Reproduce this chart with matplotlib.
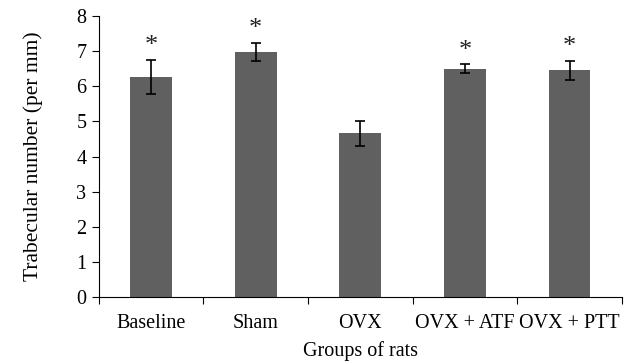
import matplotlib
matplotlib.use("Agg")
from matplotlib import pyplot as plt
import numpy as np

groups = ["Baseline", "Sham", "OVX", "OVX + ATF", "OVX + PTT"]
means = [6.26, 6.97, 4.66, 6.50, 6.45]
errors = [0.48, 0.26, 0.36, 0.12, 0.27]
significant = [True, True, False, True, True]

plt.rcParams['font.family'] = ['Liberation Serif', 'DejaVu Serif']
plt.rcParams['font.size'] = 14.5

fig = plt.figure(figsize=(6.3, 3.64), dpi=100)
ax = fig.add_axes([0.157, 0.184, 0.83, 0.772])
x = np.arange(len(groups))
ax.bar(x, means, 0.4, color="#606060", zorder=2)
ax.errorbar(x, means, yerr=errors, fmt="none", ecolor="black", elinewidth=1.2,
            capsize=3.6, capthick=1.2, zorder=3)
for xi, m, e, s in zip(x, means, errors, significant):
    if s:
        ax.text(xi, m + e + 0.08, "*", ha="center", va="bottom", fontsize=19,
                color="#222222")

ax.set_xlim(-0.5, len(groups) - 0.5)
ax.set_ylim(0, 8)
ax.set_yticks(range(0, 9))
ax.set_xticks(np.arange(len(groups) + 1) - 0.5)
ax.set_xticklabels([])
ax.set_xticks(x, groups, minor=True)
ax.tick_params(axis="x", which="minor", length=0, pad=12)
ax.tick_params(axis="x", which="major", length=5, direction="out")
ax.tick_params(axis="y", length=5, direction="out", pad=4)
for sp in ["top", "right"]:
    ax.spines[sp].set_visible(False)
ax.set_xlabel("Groups of rats", labelpad=6)
ax.set_ylabel("Trabecular number (per mm)", fontsize=15.5, labelpad=24)
fig.savefig("out.png", dpi=100)
